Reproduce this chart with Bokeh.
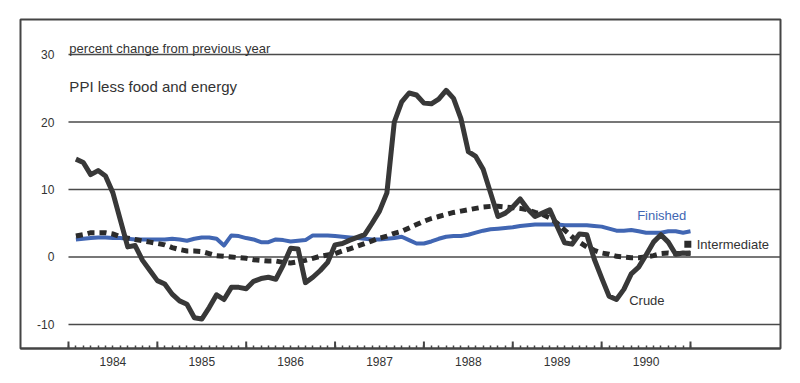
import math
from bokeh.plotting import figure
from bokeh.models import Range1d, LinearAxis, FixedTicker, CustomJSTickFormatter, ColumnDataSource
from bokeh.core.properties import value
from bokeh.embed import file_html
from bokeh.resources import INLINE

# ---------------- data ----------------
years = [1984, 1985, 1986, 1987, 1988, 1989, 1990]

crude = [
    14.5, 14.0, 12.2, 12.8, 12.0, 9.5, 5.5, 1.5, 1.7, -0.5, -2.0, -3.5,      # 1984
    -4.0, -5.5, -6.5, -7.0, -9.0, -9.2, -7.5, -5.6, -6.3, -4.5, -4.5, -4.7,  # 1985
    -3.6, -3.2, -3.0, -3.3, -1.2, 1.3, 1.2, -3.8, -3.0, -2.0, -0.8, 1.8,     # 1986
    2.0, 2.5, 2.9, 3.3, 5.0, 6.8, 9.5, 20.0, 23.0, 24.3, 24.0, 22.8,         # 1987
    22.7, 23.4, 24.7, 23.5, 20.5, 15.6, 14.9, 13.0, 9.5, 6.0, 6.5, 7.4,      # 1988
    8.6, 7.1, 6.0, 6.5, 7.0, 4.5, 2.1, 1.9, 3.4, 3.3, -0.3, -3.1,            # 1989
    -5.8, -6.3, -4.8, -2.5, -1.5, 0.3, 2.2, 3.3, 2.2, 0.4, 0.6, 0.5,         # 1990
]

finished = [
    2.6, 2.7, 2.8, 2.9, 2.9, 2.8, 2.8, 2.7, 2.6, 2.6, 2.6, 2.6,
    2.6, 2.7, 2.6, 2.4, 2.7, 2.9, 2.9, 2.7, 1.7, 3.2, 3.1, 2.8,
    2.6, 2.2, 2.2, 2.6, 2.5, 2.3, 2.4, 2.5, 3.2, 3.2, 3.2, 3.1,
    3.0, 2.9, 2.8, 2.7, 2.6, 2.6, 2.7, 2.8, 3.0, 2.5, 2.0, 2.0,
    2.3, 2.7, 3.0, 3.1, 3.1, 3.3, 3.6, 3.9, 4.1, 4.2, 4.3, 4.4,
    4.6, 4.7, 4.8, 4.8, 4.8, 4.8, 4.7, 4.7, 4.7, 4.7, 4.6, 4.5,
    4.2, 3.9, 3.9, 4.0, 3.8, 3.6, 3.6, 3.6, 3.8, 3.8, 3.6, 3.8,
]

intermediate = [
    3.1, 3.3, 3.6, 3.6, 3.6, 3.4, 3.0, 2.8, 2.6, 2.4, 2.2, 2.0,
    1.8, 1.4, 1.1, 0.9, 0.9, 0.8, 0.5, 0.2, 0.1, 0.0, -0.1, -0.2,
    -0.4, -0.5, -0.6, -0.6, -0.8, -0.9, -0.7, -0.5, -0.2, 0.1, 0.3, 0.5,
    0.9, 1.2, 1.6, 2.0, 2.4, 2.8, 3.1, 3.5, 3.8, 4.3, 4.8, 5.3,
    5.7, 6.0, 6.3, 6.6, 6.8, 7.0, 7.2, 7.4, 7.5, 7.5, 7.4, 7.3,
    7.2, 7.0, 6.6, 6.3, 5.8, 5.0, 4.0, 3.0, 2.2, 1.5, 1.0, 0.6,
    0.4, 0.1, 0.0, -0.1, -0.1, 0.0, 0.2, 0.5, 0.6, 0.5, 0.5, 0.6,
]

y_ticks = [30, 20, 10, 0, -10]
y_tick_labels = ["30", "20", "10", "0", "-10"]

# monthly positions (fraction of year, month-end)
x = [y + m / 12 for y in years for m in range(1, 13)]
src = ColumnDataSource(dict(x=x, crude=crude, finished=finished, intermediate=intermediate))

FONT = "Liberation Sans"
INK = "#333333"
GRID = "#4a4a4a"
FRAME = "#444444"

X0, X1 = 1983.46, 1992.013
Y0, Y1 = -13.56, 35.19

p = figure(frame_width=760, frame_height=329, output_backend="svg", toolbar_location=None,
           x_range=Range1d(X0, X1), y_range=Range1d(Y0, Y1),
           min_border_left=20, min_border_right=12, min_border_top=19, min_border_bottom=28,
           x_axis_type=None, y_axis_type=None)
p.background_fill_color = "white"
p.border_fill_color = "white"
p.outline_line_color = FRAME
p.outline_line_width = 2
p.xgrid.visible = False
p.ygrid.visible = False

# horizontal grid lines starting at Jan 1984
grid_start = years[0]
p.segment(x0=[grid_start] * len(y_ticks), x1=[X1] * len(y_ticks), y0=y_ticks, y1=y_ticks,
          line_color=GRID, line_width=1.6)

# y tick labels inside the box
p.text(x=[1983.842] * len(y_ticks), y=y_ticks, text=y_tick_labels,
       text_font=value(FONT), text_font_size="12px", text_color=INK,
       text_align="right", text_baseline="middle")

# titles
p.text(x=[1984.01], y=[30.92], text=["percent change from previous year"],
       text_font=value(FONT), text_font_size="13px", text_color=INK,
       text_align="left", text_baseline="alphabetic")
p.text(x=[1984.01], y=[25.3], text=["PPI less food and energy"],
       text_font=value(FONT), text_font_size="15px", text_color=INK,
       text_align="left", text_baseline="alphabetic")

# series
p.line("x", "finished", source=src, line_color="#4166b3", line_width=4, line_join="round")
p.line("x", "intermediate", source=src, line_color="#2b2b2b", line_width=5,
       line_dash="7 5", line_join="miter")
p.line("x", "crude", source=src, line_color="#383838", line_width=5, line_join="round")

# series labels
p.text(x=[1990.40], y=[6.18], text=["Finished"], text_font=value(FONT), text_font_size="13px",
       text_color="#4166b3", text_align="left", text_baseline="middle")
p.scatter(x=[1990.97], y=[1.88], marker="square", size=7, fill_color="#2b2b2b", line_color=None)
p.text(x=[1991.07], y=[1.88], text=["Intermediate"], text_font=value(FONT), text_font_size="13px",
       text_color=INK, text_align="left", text_baseline="middle")
p.text(x=[1990.31], y=[-6.4], text=["Crude"], text_font=value(FONT), text_font_size="13px",
       text_color=INK, text_align="left", text_baseline="middle")

# long ticks at year boundaries (vertical dashes centred on the frame bottom; lower half clipped)
year_bounds = years + [years[-1] + 1]
p.scatter(x=year_bounds, y=[Y0] * len(year_bounds), marker="dash", size=14, angle=math.pi / 2,
          line_color=FRAME, line_width=2)

# bottom axis: monthly minor ticks pointing inward, year labels centred in each year
month_bounds = [y + m / 12 for y in years for m in range(0, 12)] + [years[-1] + 1]
axis = LinearAxis(ticker=FixedTicker(ticks=[y + 0.5 for y in years], minor_ticks=month_bounds),
                  formatter=CustomJSTickFormatter(code="return Math.floor(tick).toString();"))
axis.axis_line_color = FRAME
axis.axis_line_width = 2
axis.major_tick_line_color = None
axis.major_tick_in = 0
axis.major_tick_out = 0
axis.minor_tick_in = 3
axis.minor_tick_out = 0
axis.minor_tick_line_color = FRAME
axis.minor_tick_line_width = 1.5
axis.major_label_standoff = 8
axis.major_label_text_font = FONT
axis.major_label_text_font_size = "12px"
axis.major_label_text_color = INK
p.add_layout(axis, "below")

open("out.html", "w").write(file_html(p, INLINE))
